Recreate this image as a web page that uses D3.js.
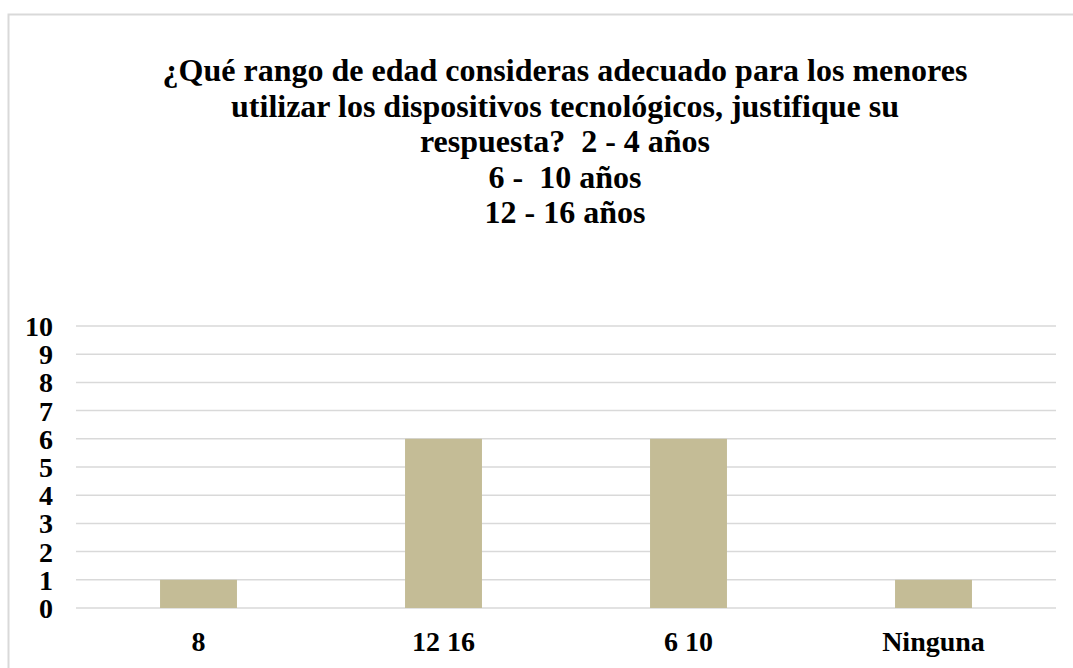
<!DOCTYPE html>
<html>
<head>
<meta charset="utf-8">
<script src="https://cdn.jsdelivr.net/npm/d3@7"></script>
<style>
  body { margin: 0; background: #fff; }
</style>
</head>
<body>
<div id="chart"></div>
<script>
// chart size
var width = 1073;
var height = 668;
var fontStack = "'Times New Roman', 'Liberation Serif', serif";

// data
var categories = ["8", "12 16", "6 10", "Ninguna"];
var values = [1, 6, 6, 1];
var yTicks = [0, 1, 2, 3, 4, 5, 6, 7, 8, 9, 10];
var titleLines = [
    "¿Qué rango de edad consideras adecuado para los menores",
    "utilizar los dispositivos tecnológicos, justifique su",
    "respuesta?  2 - 4 años",
    "6 -  10 años",
    "12 - 16 años"
];

var barColor = "#c4bc96";
var gridColor = "#d9d9d9";

var plot = { left: 76, right: 1056, top: 326, bottom: 608 };

var svg = d3.select("#chart")
    .append("svg")
    .attr("width", width)
    .attr("height", height)
    .style("font-family", fontStack)
    .style("font-weight", "bold");

// outer chart border (only top and left are in view)
svg.append("rect")
    .attr("x", 8.5)
    .attr("y", 14.5)
    .attr("width", 1200)
    .attr("height", 800)
    .attr("fill", "none")
    .attr("stroke", gridColor)
    .attr("stroke-width", 2);

// title
svg.append("g")
    .selectAll("text")
    .data(titleLines)
    .enter()
    .append("text")
    .attr("x", 565)
    .attr("y", function(d, i) { return 81 + i * 35.5; })
    .attr("text-anchor", "middle")
    .style("font-size", "32px")
    .style("white-space", "pre")
    .text(function(d) { return d; });

var x = d3.scaleBand()
    .domain(categories)
    .range([plot.left, plot.right])
    .paddingInner(0.686)
    .paddingOuter(0.343);

var y = d3.scaleLinear()
    .domain([0, 10])
    .range([plot.bottom, plot.top]);

// gridlines
svg.append("g")
    .selectAll("line")
    .data(yTicks)
    .enter()
    .append("line")
    .attr("x1", plot.left)
    .attr("x2", plot.right)
    .attr("y1", function(d) { return y(d); })
    .attr("y2", function(d) { return y(d); })
    .attr("stroke", gridColor)
    .attr("stroke-width", 1.5);

// bars
svg.append("g")
    .selectAll("rect")
    .data(values)
    .enter()
    .append("rect")
    .attr("x", function(d, i) { return x(categories[i]); })
    .attr("y", function(d) { return y(d); })
    .attr("width", x.bandwidth())
    .attr("height", function(d) { return y(0) - y(d); })
    .attr("fill", barColor);

// y axis labels
var yAxis = d3.axisLeft(y).tickValues(yTicks).tickSize(0).tickPadding(0);
var gy = svg.append("g")
    .attr("transform", "translate(53,0)")
    .call(yAxis)
    .attr("font-family", null)
    .attr("font-size", null);
gy.select(".domain").remove();
gy.selectAll("text")
    .attr("dy", "0.34em")
    .attr("fill", "#000")
    .style("font-size", "28px");

// x axis labels
var xAxis = d3.axisBottom(x).tickSize(0).tickPadding(0);
var gx = svg.append("g")
    .attr("transform", "translate(0,651)")
    .call(xAxis)
    .attr("font-family", null)
    .attr("font-size", null);
gx.select(".domain").remove();
gx.selectAll("text")
    .attr("dy", "0")
    .attr("fill", "#000")
    .style("font-size", "28px");
</script>
</body>
</html>
